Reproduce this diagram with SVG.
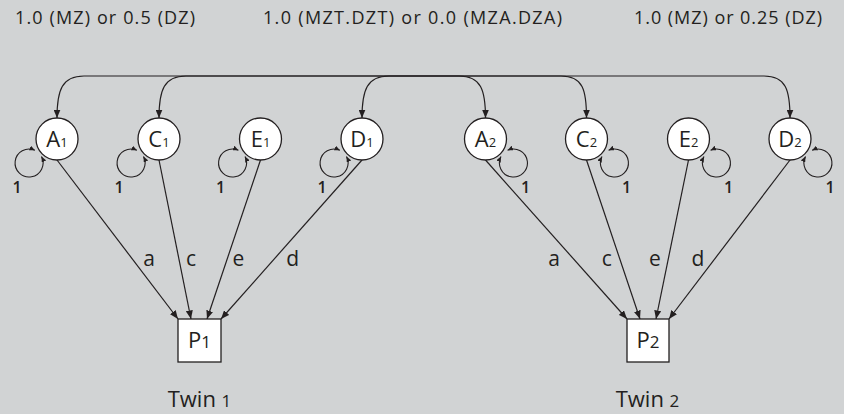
<svg xmlns="http://www.w3.org/2000/svg" width="844" height="414" viewBox="0 0 844 414">
  <style>
    text { font-family: "Open Sans", "Noto Sans", "Liberation Sans", sans-serif; fill: #231f20; }
    .top { font-size: 18px; text-anchor: middle; }
    .lat { fill: #ffffff; stroke: #231f20; stroke-width: 1.3; }
    .obs { fill: #ffffff; stroke: #231f20; stroke-width: 1.3; }
    .nl { font-size: 22px; text-anchor: middle; }
    .sub { font-size: 13px; }
    .os { font-size: 17px; }
    .el { font-size: 21px; text-anchor: middle; }
    .one { font-size: 16px; font-weight: 600; text-anchor: middle; }
    .tw { font-size: 22px; text-anchor: middle; }
    .edge { fill: none; stroke: #231f20; stroke-width: 1.2; marker-end: url(#ah); }
    .cov { fill: none; stroke: #231f20; stroke-width: 1.2; marker-start: url(#ah); marker-end: url(#ah); }
    .loop { fill: none; stroke: #231f20; stroke-width: 1.1; marker-start: url(#sh); marker-end: url(#sh); }
  </style>
  <defs>
    <marker id="ah" markerUnits="userSpaceOnUse" markerWidth="9" markerHeight="7" refX="8.5" refY="3.5" orient="auto-start-reverse">
      <path d="M0,0 L8.5,3.5 L0,7 z" fill="#231f20"/>
    </marker>
    <marker id="sh" markerUnits="userSpaceOnUse" markerWidth="6" markerHeight="5" refX="5.5" refY="2.5" orient="auto-start-reverse">
      <path d="M0,0 L5.5,2.5 L0,5 z" fill="#231f20"/>
    </marker>
  </defs>
  <rect x="0" y="0" width="844" height="414" fill="#d1d3d4"/>

  <g id="labels-top">
    <text class="top" x="105" y="24" textLength="180" lengthAdjust="spacing">1.0 (MZ) or 0.5 (DZ)</text>
    <text class="top" x="412.5" y="24" textLength="299" lengthAdjust="spacing">1.0 (MZT.DZT) or 0.0 (MZA.DZA)</text>
    <text class="top" x="728" y="24" textLength="188" lengthAdjust="spacing">1.0 (MZ) or 0.25 (DZ)</text>
  </g>

  <g id="connectors">
    <path class="cov" d="M57,118 C57,90 62,76 84,76 L459,76 C481,76 485.5,90 485.5,118"/>
    <path class="cov" d="M159,118 C159,90 164,76 186,76 L561,76 C583,76 586.5,90 586.5,118"/>
    <path class="cov" d="M362,118 C362,90 367,76 389,76 L764,76 C786,76 790,90 790,118"/>

    <path class="loop" d="M41.5,156.6 A14 14 0 1 1 34.9,150.3"/>
    <path class="loop" d="M143.5,156.6 A14 14 0 1 1 136.9,150.3"/>
    <path class="loop" d="M245,156.6 A14 14 0 1 1 238.4,150.3"/>
    <path class="loop" d="M346.5,156.6 A14 14 0 1 1 339.9,150.3"/>
    <path class="loop" d="M501,156.6 A14 14 0 1 0 507.6,150.3"/>
    <path class="loop" d="M602,156.6 A14 14 0 1 0 608.6,150.3"/>
    <path class="loop" d="M704,156.6 A14 14 0 1 0 710.6,150.3"/>
    <path class="loop" d="M805.5,156.6 A14 14 0 1 0 812.1,150.3"/>

    <text class="one" x="17" y="193">1</text>
    <text class="one" x="119" y="193">1</text>
    <text class="one" x="220.5" y="193">1</text>
    <text class="one" x="322" y="193">1</text>
    <text class="one" x="525.5" y="193">1</text>
    <text class="one" x="626.5" y="193">1</text>
    <text class="one" x="728.5" y="193">1</text>
    <text class="one" x="830" y="193">1</text>

    <line class="edge" x1="57" y1="160" x2="178" y2="319"/>
    <line class="edge" x1="159" y1="160" x2="191" y2="319"/>
    <line class="edge" x1="260.5" y1="160" x2="207" y2="319"/>
    <line class="edge" x1="362" y1="160" x2="221" y2="319"/>
    <line class="edge" x1="485.5" y1="160" x2="627" y2="319"/>
    <line class="edge" x1="586.5" y1="160" x2="640" y2="319"/>
    <line class="edge" x1="688.5" y1="160" x2="656" y2="319"/>
    <line class="edge" x1="790" y1="160" x2="669" y2="319"/>

    <text class="el" x="149" y="265.5">a</text>
    <text class="el" x="191" y="265.5">c</text>
    <text class="el" x="238.3" y="265.5">e</text>
    <text class="el" x="292.7" y="265.5">d</text>
    <text class="el" x="554" y="265.5">a</text>
    <text class="el" x="606.7" y="265.5">c</text>
    <text class="el" x="655" y="265.5">e</text>
    <text class="el" x="698" y="265.5">d</text>
  </g>

  <g id="A1"><circle class="lat" cx="57" cy="139" r="21"/><text class="nl" x="57" y="146.5">A<tspan class="sub">1</tspan></text></g>
  <g id="C1"><circle class="lat" cx="159" cy="139" r="21"/><text class="nl" x="159" y="146.5">C<tspan class="sub">1</tspan></text></g>
  <g id="E1"><circle class="lat" cx="260.5" cy="139" r="21"/><text class="nl" x="260.5" y="146.5">E<tspan class="sub">1</tspan></text></g>
  <g id="D1"><circle class="lat" cx="362" cy="139" r="21"/><text class="nl" x="362" y="146.5">D<tspan class="sub">1</tspan></text></g>
  <g id="A2"><circle class="lat" cx="485.5" cy="139" r="21"/><text class="nl" x="485.5" y="146.5">A<tspan class="sub">2</tspan></text></g>
  <g id="C2"><circle class="lat" cx="586.5" cy="139" r="21"/><text class="nl" x="586.5" y="146.5">C<tspan class="sub">2</tspan></text></g>
  <g id="E2"><circle class="lat" cx="688.5" cy="139" r="21"/><text class="nl" x="688.5" y="146.5">E<tspan class="sub">2</tspan></text></g>
  <g id="D2"><circle class="lat" cx="790" cy="139" r="21"/><text class="nl" x="790" y="146.5">D<tspan class="sub">2</tspan></text></g>

  <g id="P1"><rect class="obs" x="178" y="319" width="43" height="43"/><text class="nl" x="199.5" y="348">P<tspan class="os">1</tspan></text></g>
  <g id="P2"><rect class="obs" x="627" y="319" width="42" height="43"/><text class="nl" x="648" y="348">P<tspan class="os">2</tspan></text></g>

  <g id="twin-labels">
    <text class="tw" x="199.5" y="407">Twin <tspan class="os">1</tspan></text>
    <text class="tw" x="647.5" y="407">Twin <tspan class="os">2</tspan></text>
  </g>
</svg>
